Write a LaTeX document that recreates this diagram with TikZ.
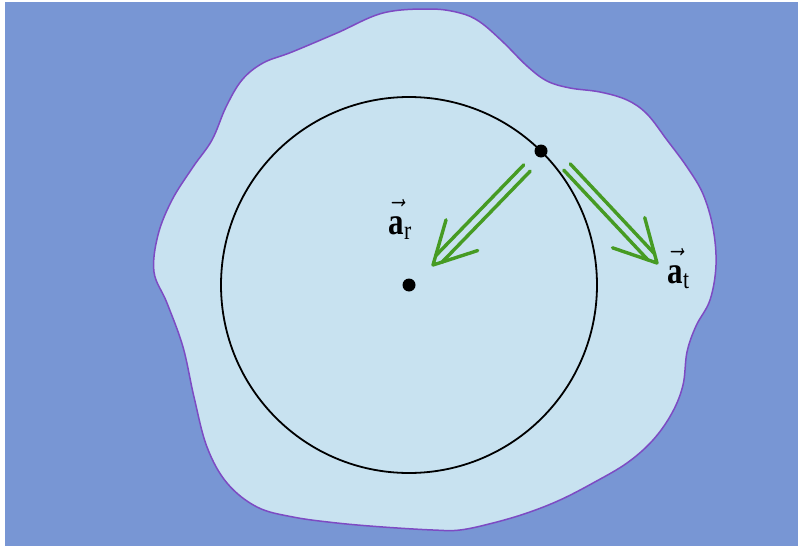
\documentclass[tikz,border=0pt]{standalone}
\usepackage{amsmath}
\usepackage{fontspec}
\setmainfont{Liberation Serif}
\usetikzlibrary{calc}
\definecolor{bgblue}{RGB}{120,150,212}
\definecolor{blobfill}{RGB}{200,226,240}
\definecolor{blobedge}{RGB}{125,75,195}
\definecolor{arrgreen}{RGB}{70,155,35}
\newcommand{\vecbold}[1]{\vec{\raisebox{0pt}[1.35ex]{\textbf{#1}}}}
\tikzset{
  blobline/.style={draw=blobedge,line width=1.5pt,fill=blobfill},
  orbit/.style={draw=black,line width=1.8pt},
  dotnode/.style={circle,fill=black,inner sep=0pt,minimum size=13pt},
  greenline/.style={draw=arrgreen,line width=3.4pt,line cap=round,line join=round},
  lab/.style={inner sep=0pt,xscale=3.1,yscale=3.8,transform shape}
}
\begin{document}
\begin{tikzpicture}[x=1pt,y=-1pt]
\useasboundingbox (0,0) rectangle (798,546);
\fill[white] (0,0) rectangle (798,546);
\fill[bgblue] (5,2) rectangle (798,546);
% blob
\path[blobline] plot[smooth cycle,tension=0.6] coordinates {
(430,9) (460,13) (480,22) (503,42) (527,66) (547,81) (570,88) (600,92)
(627,100) (647,114) (667,140) (687,167) (703,194) (713,228) (716,265)
(710,300) (696,326) (687,352) (683,385) (672,413) (653,440) (627,463)
(593,483) (560,500) (527,513) (493,523) (460,530) (433,530) (383,527)
(337,523) (293,517) (257,507) (227,483) (207,447) (194,397) (183,347)
(167,303) (154,272) (158,235) (172,200) (193,167) (212,140) (226,107)
(242,80) (263,63) (292,52) (337,33) (383,13)};
% circle
\node[dotnode] (c) at (409,285) {};
\draw[orbit] (c.center) circle[radius=188];
\node[dotnode] (p) at (541,151) {};
% radial arrow
\coordinate (arS) at (527,168);
\coordinate (arT) at (433,265);
\coordinate (arE) at ($(arT)!8pt!(arS)$);
\draw[greenline] ($(arS)!4.5pt!90:(arT)$) -- ($(arE)!4.5pt!-90:(arS)$);
\draw[greenline] ($(arS)!4.5pt!-90:(arT)$) -- ($(arE)!4.5pt!90:(arS)$);
\draw[greenline] ($(arT)!47pt!28:(arS)$) -- (arT) -- ($(arT)!47pt!-28:(arS)$);
% tangential arrow
\coordinate (atS) at (567,167);
\coordinate (atT) at (657,263);
\coordinate (atE) at ($(atT)!8pt!(atS)$);
\draw[greenline] ($(atS)!4.5pt!90:(atT)$) -- ($(atE)!4.5pt!-90:(atS)$);
\draw[greenline] ($(atS)!4.5pt!-90:(atT)$) -- ($(atE)!4.5pt!90:(atS)$);
\draw[greenline] ($(atT)!47pt!28:(atS)$) -- (atT) -- ($(atT)!47pt!-28:(atS)$);
% labels
\node[lab,anchor=base west] (lr) at (388,234) {$\vecbold{a}_{\textrm{r}}$};
\node[lab,anchor=base west] (lt) at (667,283) {$\vecbold{a}_{\textrm{t}}$};
\end{tikzpicture}
\end{document}
